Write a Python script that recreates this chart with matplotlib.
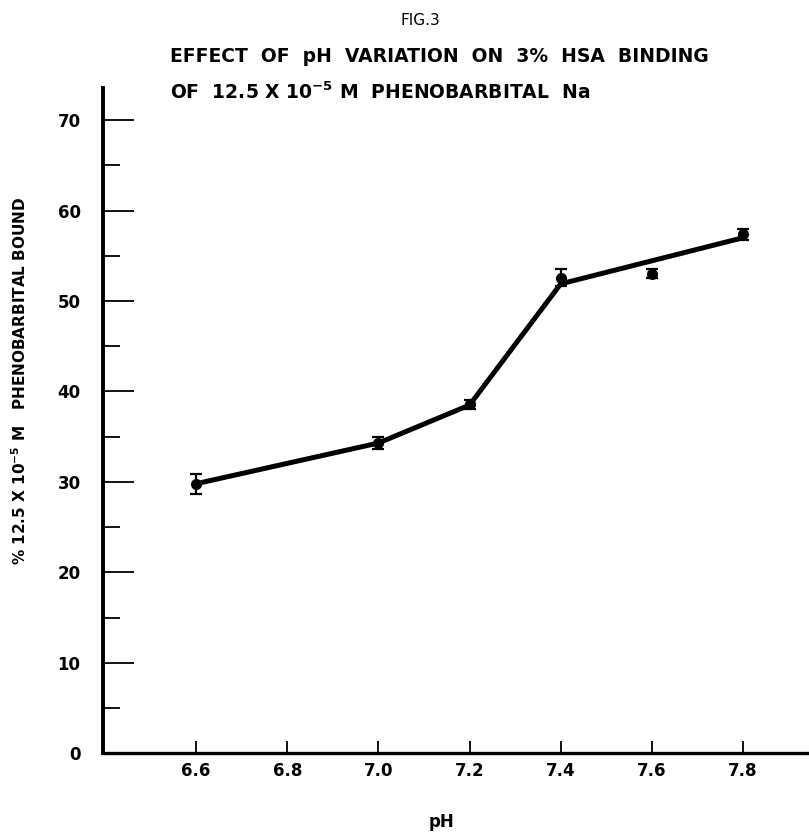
import numpy as np
import matplotlib
matplotlib.use('Agg')
import matplotlib.pyplot as plt

# measured points (pH, % bound, error)
ph = [6.6, 7.0, 7.2, 7.4, 7.6, 7.8]
bound = [29.8, 34.3, 38.6, 52.6, 53.0, 57.4]
err = [1.1, 0.7, 0.5, 0.9, 0.5, 0.6]

# hand drawn line through the points (7.6 left off)
line_ph = [6.6, 7.0, 7.2, 7.4, 7.8]
line_bound = [29.8, 34.3, 38.5, 51.9, 57.0]

x_ticks = [6.6, 6.8, 7.0, 7.2, 7.4, 7.6, 7.8]
x_labels = ['6.6', '6.8', '7.0', '7.2', '7.4', '7.6', '7.8']
y_ticks = [0, 10, 20, 30, 40, 50, 60, 70]

plt.rcParams['font.family'] = ['DejaVu Sans']

fig = plt.figure(figsize=(8.09, 8.35), dpi=100)
ax = fig.add_axes([0.127, 0.098, 0.873, 0.797])

ax.plot(line_ph, line_bound, color='black', lw=3.6, solid_capstyle='round', zorder=2)
ax.errorbar(ph, bound, yerr=err, fmt='o', color='black', ms=7,
            capsize=4, elinewidth=1.6, capthick=1.6, zorder=3)

ax.set_xlim(6.395, 7.945)
ax.set_ylim(0, 73.6)

ax.spines['top'].set_visible(False)
ax.spines['right'].set_visible(False)
ax.spines['left'].set_linewidth(2.8)
ax.spines['bottom'].set_linewidth(2.4)

ax.set_xticks(x_ticks)
ax.set_xticklabels(x_labels, fontweight='bold')
ax.set_yticks(y_ticks)
ax.set_yticklabels([str(v) for v in y_ticks], fontweight='bold')
ax.set_yticks(np.arange(5, 70, 10), minor=True)

ax.tick_params(axis='x', direction='in', length=9, width=1.3, labelsize=12, pad=6)
ax.tick_params(axis='y', which='major', direction='in', length=22, width=1.3,
               labelsize=12, pad=16)
ax.tick_params(axis='y', which='minor', direction='in', length=12, width=1.3)

ax.set_xlabel('pH', fontsize=12, fontweight='bold')
ax.set_ylabel('% 12.5 X 10$^{\\mathbf{-5}}$ M   PHENOBARBITAL BOUND',
              fontsize=11, fontweight='bold')
ax.yaxis.set_label_coords(-0.105, 0.56)
ax.xaxis.set_label_coords(0.48, -0.09)

fig.text(0.52, 0.975, 'FIG.3', ha='center', va='center', fontsize=11)
fig.text(0.21, 0.932, 'EFFECT  OF  pH  VARIATION  ON  3%  HSA  BINDING',
         ha='left', va='center', fontsize=13.5, fontweight='bold')
fig.text(0.21, 0.89, 'OF  12.5 X 10$^{\\mathbf{-5}}$ M  PHENOBARBITAL  Na',
         ha='left', va='center', fontsize=13.5, fontweight='bold')

fig.savefig('out.png', dpi=100)
